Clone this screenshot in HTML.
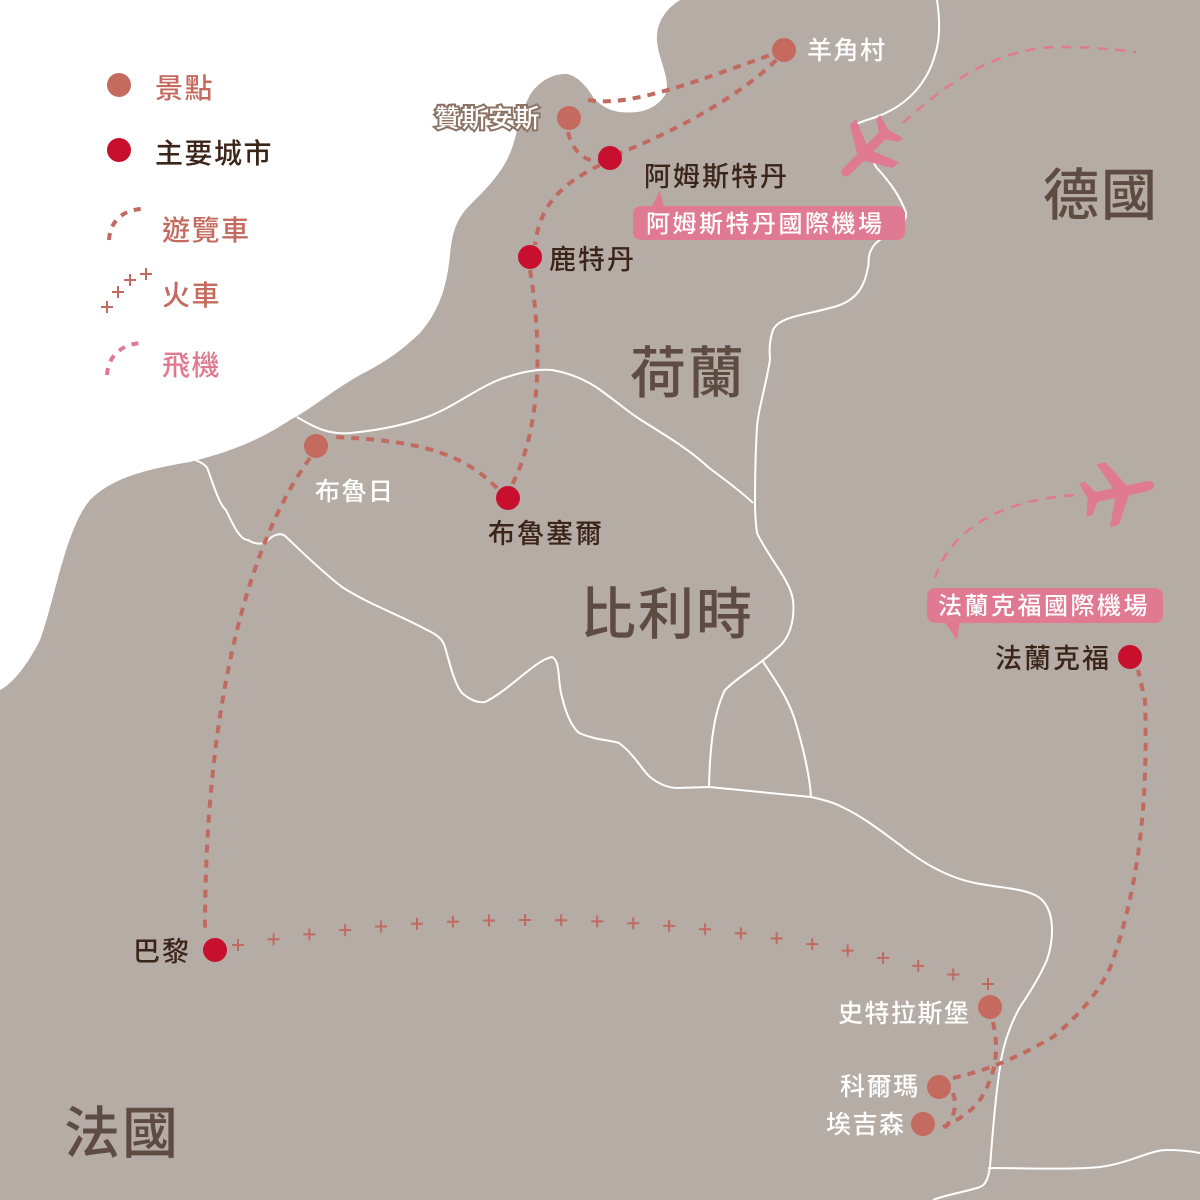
<!DOCTYPE html>
<html><head><meta charset="utf-8"><style>
html,body{margin:0;padding:0;background:#fff}
svg{display:block}
text{font-family:"Liberation Sans","Noto Sans CJK TC",sans-serif;font-weight:500}
</style></head><body>
<svg id="s" width="1200" height="1200" viewBox="0 0 1200 1200" xmlns="http://www.w3.org/2000/svg">
<rect width="1200" height="1200" fill="#b6aca6"/>
<path fill="#fff" d="M0,0 L680,0 C664,10 656,25 657,40 C658,60 672,80 665,95 C655,110 640,114 620,112 C605,110 600,103 595,100 C588,88 578,76 567,74 C550,73 535,85 529,97 C522,110 518,128 513,145 C505,170 490,185 470,205 C455,220 452,235 450,255 C447,285 440,310 420,333 C400,352 385,362 360,375 C330,392 310,410 290,420 C260,440 230,452 190,462 C140,470 110,480 90,500 C65,530 55,600 40,640 C25,670 10,685 0,690 Z"/>
<g fill="none" stroke="#fff" stroke-width="2">
<path d="M937,0 C940,20 940,40 935,55 C928,80 910,105 876,117 C860,122 850,126 853,128 C860,140 870,155 876,167 C888,180 900,195 906,213 C908,225 885,235 876,243 C865,255 870,265 868,267 C865,285 858,298 840,305 C810,315 780,315 773,330 C768,345 770,355 770,360 C765,390 758,410 757,427 C755,460 755,490 755,503 C755,515 756,525 757,533 C770,560 790,580 793,600 C795,620 790,640 775,650 C760,665 740,675 725,690 C715,710 710,740 709,787"/>
<path d="M762,660 C775,680 790,700 797,727 C805,755 810,780 811,797"/>
<path d="M297,417 C315,428 330,435 351,433 C380,430 405,425 427,417 C455,407 480,385 507,377 C525,371 540,369 552,370 C570,373 585,380 596,387 C615,400 628,412 641,420 C665,435 690,450 708,467 C725,480 742,492 753,503"/>
<path d="M195,460 C203,463 207,466 208,470 C215,490 220,505 226,510 C233,525 240,540 248,540 C256,545 262,544 266,542 C273,535 278,533 284,535 C300,550 320,570 342,587 C370,605 400,615 427,630 C438,635 443,640 445,647 C450,665 455,685 462,693 C470,700 478,703 485,702 C510,690 535,660 552,657 C560,660 558,680 561,693 C565,710 570,725 579,733 C595,740 610,740 619,743 C635,755 642,770 650,777 C660,785 670,788 677,788 L709,787 L811,797 C825,800 835,803 842,807 C860,815 880,830 900,845 C925,865 950,878 975,883 C1000,888 1020,888 1035,895 C1055,905 1055,935 1047,960 C1038,980 1028,995 1020,1007 C1010,1025 1003,1045 1000,1067 C995,1100 992,1140 990,1167 C988,1180 985,1185 980,1187 C965,1192 945,1195 933,1200"/>
<path d="M988,1168 C1030,1168 1070,1170 1100,1167 C1130,1163 1150,1150 1167,1150 C1185,1150 1195,1152 1200,1153"/>
</g>
<g fill="none" stroke="#e07a92" stroke-width="2.5" stroke-dasharray="10 8">
<path d="M903,123 C960,70 1010,47 1060,47 C1095,47 1120,50 1136,52"/>
<path d="M935,578 C950,530 1000,500 1075,495"/>
</g>
<g fill="none" stroke="#c06a60" stroke-width="4" stroke-dasharray="8 7">
<path d="M588,100 C630,108 700,80 784,50"/>
<path d="M615,155 C680,130 750,90 784,52"/>
<path d="M568,132 C572,150 585,165 605,160"/>
<path d="M600,165 C560,185 540,205 535,245"/>
<path d="M530,270 C540,330 545,420 512,485"/>
<path d="M497,488 C460,450 410,440 332,437"/>
<path d="M310,458 C250,540 205,700 205,930"/>
<path d="M993,1022 C997,1040 998,1060 990,1080 C982,1100 975,1112 943,1127"/>
<path d="M953,1078 C980,1072 1010,1062 1053,1037 C1080,1015 1105,985 1113,960 C1140,880 1148,800 1145,700 L1138,670"/>
<path d="M953,1093 C957,1105 956,1115 943,1130"/>
</g>
<g id="train" stroke="#c06a60" stroke-width="2"></g>
<path id="tp" d="M238,945 Q620,880 988,984" fill="none" stroke="none"/>
<g fill="#e07a92">
<path transform="translate(866,152) rotate(135) scale(0.95)" d="M35,0 C35,-4 30,-5 25,-5 L8,-5 L-8,-32 L-17,-32 L-6,-5 L-24,-5 L-32,-17 L-38,-17 L-33,0 L-38,17 L-32,17 L-24,5 L-6,5 L-17,32 L-8,32 L8,5 L25,5 C30,5 35,4 35,0 Z"/>
<path transform="translate(1120,492) rotate(-12) scale(1)" d="M35,0 C35,-4 30,-5 25,-5 L8,-5 L-8,-32 L-17,-32 L-6,-5 L-24,-5 L-32,-17 L-38,-17 L-33,0 L-38,17 L-32,17 L-24,5 L-6,5 L-17,32 L-8,32 L8,5 L25,5 C30,5 35,4 35,0 Z"/>
<rect x="633" y="206" width="272" height="34" rx="8"/>
<path d="M652,207 L660,190 L664,207 Z"/>
<rect x="927" y="588" width="236" height="35" rx="8"/>
<path d="M944,621 L957,640 L960,621 Z"/>
</g>
<g fill="#fff" font-size="24" letter-spacing="2.5">
<text x="646" y="232">阿姆斯特丹國際機場</text>
<text x="938" y="614">法蘭克福國際機場</text>
</g>
<g fill="#c46a5e">
<circle cx="784" cy="50" r="12"/>
<circle cx="569" cy="118" r="12"/>
<circle cx="316" cy="446" r="12"/>
<circle cx="990" cy="1007" r="12"/>
<circle cx="939" cy="1087" r="12"/>
<circle cx="923" cy="1124" r="12"/>
<circle cx="119" cy="85" r="12"/>
</g>
<g fill="#c8102e">
<circle cx="610" cy="158" r="12"/>
<circle cx="530" cy="257" r="12"/>
<circle cx="508" cy="498" r="12"/>
<circle cx="215" cy="950" r="12"/>
<circle cx="1130" cy="657" r="12"/>
<circle cx="119" cy="150" r="12"/>
</g>
<g fill="none" stroke-width="4" stroke-dasharray="7 7">
<path d="M109,240 C110,220 125,208 146,209" stroke="#c06a60"/>
<path d="M107,375 C108,355 123,343 144,343" stroke="#e07a92"/>
</g>
<g stroke="#c06a60" stroke-width="2" id="lg"></g>
<g font-size="28" letter-spacing="1.5">
<text x="155" y="98" fill="#c46a5e">景點</text>
<text x="155" y="163" fill="#3b2418">主要城市</text>
<text x="162" y="240" fill="#c46a5e">遊覽車</text>
<text x="162" y="305" fill="#c46a5e">火車</text>
<text x="162" y="375" fill="#e07a92">飛機</text>
</g>
<g font-size="25" fill="#fff" letter-spacing="1.5">
<text x="807" y="59">羊角村</text>
<text x="315" y="500">布魯日</text>
<text x="838" y="1022">史特拉斯堡</text>
<text x="840" y="1095">科爾瑪</text>
<text x="826" y="1133">埃吉森</text>
<text x="435" y="127" stroke="#8c7364" stroke-width="4" paint-order="stroke">贊斯安斯</text>
</g>
<g font-size="27" fill="#3b2418" letter-spacing="2">
<text x="644" y="186">阿姆斯特丹</text>
<text x="549" y="269">鹿特丹</text>
<text x="488" y="543">布魯塞爾</text>
<text x="995" y="668">法蘭克福</text>
<text x="133" y="961">巴黎</text>
</g>
<g font-size="56" fill="#5e4b42" letter-spacing="2">
<text x="630" y="393">荷蘭</text>
<text x="1043" y="215">德國</text>
<text x="580" y="634">比利時</text>
<text x="64" y="1153">法國</text>
</g>
</svg>
<script>
(function(){
var ns="http://www.w3.org/2000/svg";
function cross(g,x,y,s){var p=document.createElementNS(ns,"path");p.setAttribute("d","M"+(x-s)+","+y+"H"+(x+s)+"M"+x+","+(y-s)+"V"+(y+s));g.appendChild(p);}
var tp=document.getElementById("tp"),L=tp.getTotalLength(),g=document.getElementById("train"),n=22;
for(var i=0;i<n;i++){var pt=tp.getPointAtLength(L*i/(n-1));cross(g,pt.x,pt.y,6);}
var lg=document.getElementById("lg");
[[107,307],[118,292],[130,280],[146,274]].forEach(function(a){cross(lg,a[0],a[1],6);});
})();
</script>
</body></html>
